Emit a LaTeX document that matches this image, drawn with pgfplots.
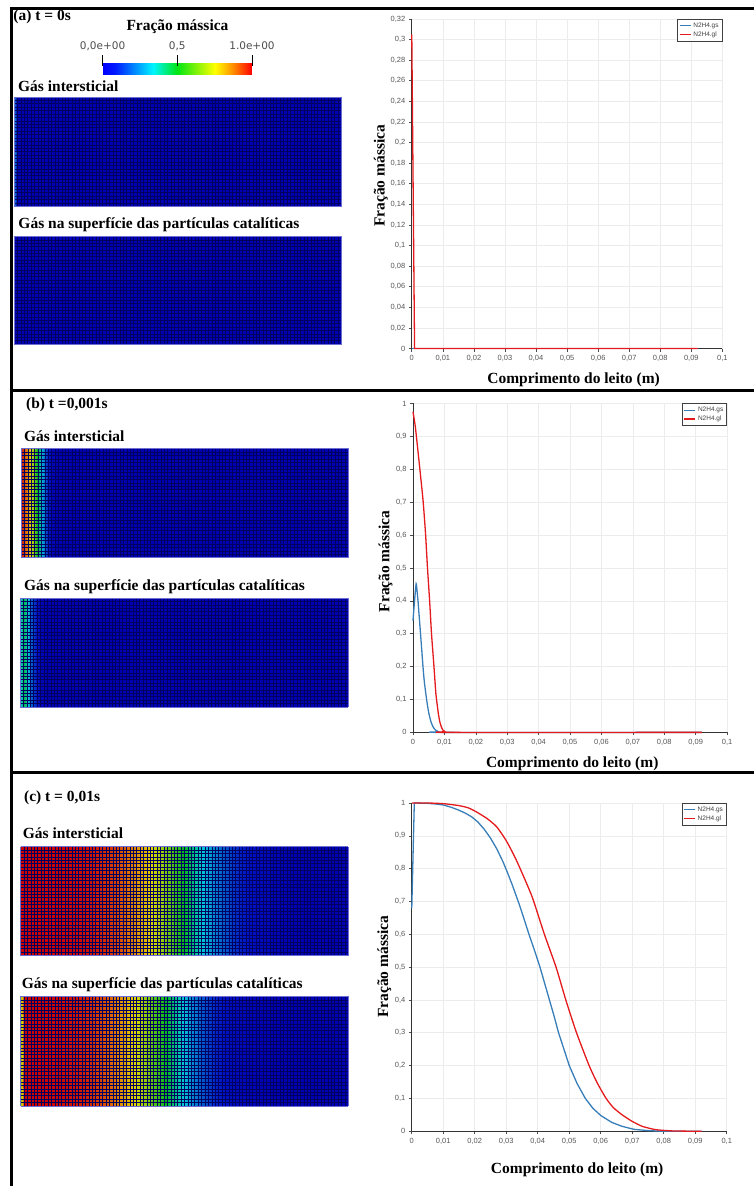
\documentclass[border=0pt]{standalone}
\usepackage{fontspec}
\setmainfont{Liberation Serif}
\setsansfont{Liberation Sans}
\newfontfamily\cbfont{DejaVu Sans}
\usepackage{pgfplots}
\usepackage{pgfplotstable}
\pgfplotsset{compat=1.18}

\definecolor{pvblue}{RGB}{55,126,184}
\definecolor{pvred}{RGB}{228,26,28}
\definecolor{ticktext}{RGB}{85,85,85}
\definecolor{gridc}{RGB}{236,236,236}
\definecolor{meshline}{RGB}{0,0,95}
\definecolor{meshedge}{RGB}{110,110,210}

\pgfplotsset{
  colormap={pvbar}{rgb255(0cm)=(0,0,255) rgb255(8cm)=(0,25,255) rgb255(34cm)=(0,245,255) rgb255(50cm)=(0,230,20) rgb255(75cm)=(255,255,0) rgb255(87cm)=(255,140,0) rgb255(100cm)=(255,0,0)},
  colormap={pvmesh}{rgb255(0cm)=(0,0,180) rgb255(8cm)=(0,20,200) rgb255(34cm)=(0,200,215) rgb255(50cm)=(0,185,30) rgb255(75cm)=(225,215,0) rgb255(87cm)=(225,120,0) rgb255(100cm)=(205,0,0)},
  lineplot/.style={
    scale only axis, clip=false,
    xmin=0, xmax=0.1, ymin=0,
    axis x line*=bottom, axis y line*=left,
    axis line style={draw=black!80, line width=0.8pt},
    tick align=outside, major tick length=3pt,
    major tick style={draw=black!70, line width=0.6pt},
    xtick={0,0.01,...,0.1},
    grid=major, major grid style={draw=gridc, line width=0.6pt},
    scaled x ticks=false, scaled y ticks=false,
    tick label style={font=\sffamily\fontsize{7.5}{8}\selectfont, text=ticktext},
    /pgf/number format/fixed, /pgf/number format/precision=2,
    /pgf/number format/use comma,
    /pgf/number format/assume math mode=true,
    label style={font=\bfseries\fontsize{15.5}{18}\selectfont},
    xlabel={Comprimento do leito (m)}, ylabel={Fração mássica},
    legend style={at={(1,1)}, anchor=north east, draw=black!75, line width=0.6pt,
      fill=white, inner sep=1.5pt, row sep=-1.5pt,
      font=\sffamily\fontsize{6.5}{7.5}\selectfont, text=black!75},
    legend cell align=left,
    legend image code/.code={\draw[##1, line width=1.3pt] (0pt,0pt) -- (11pt,0pt);},
  },
  curve/.style={line width=1.3pt, smooth, tension=0.35},
  meshplot/.style={
    scale only axis, width=328pt, height=109pt,
    view={0}{90}, xmin=0, xmax=96, ymin=0, ymax=32, zmin=-1, zmax=2,
    colormap name=pvmesh, point meta min=0, point meta max=1,
    xtick={0,...,96}, ytick={0,...,32}, ztick=\empty,
    xticklabels={}, yticklabels={}, major tick length=0pt,
    grid=major, major grid style={draw=meshline, line width=0.5pt},
    axis on top, axis line style={draw=meshedge, line width=0.6pt},
  },
}

% series: x (m), mass fraction
\pgfplotstableread{
x y
0 0
0.092 0
}\gsa
\pgfplotstableread{
x y
0 0.305
0.0009 0
0.092 0
}\gla
\pgfplotstableread{
x y
0 0.34
0.0005 0.40
0.001 0.452
0.0013 0.43
0.0016 0.40
0.002 0.35
0.0024 0.30
0.0028 0.25
0.0032 0.198
0.0036 0.155
0.0041 0.117
0.0046 0.083
0.0051 0.056
0.0058 0.03
0.0065 0.015
0.0073 0.006
0.0081 0.002
0.009 0
0.092 0
}\gsb
\pgfplotstableread{
x y
0 0.975
0.00075 0.929
0.0019 0.827
0.0032 0.706
0.004 0.604
0.0046 0.503
0.0053 0.40
0.0059 0.30
0.0067 0.198
0.0073 0.117
0.0081 0.056
0.0086 0.03
0.0091 0.015
0.0096 0.006
0.0102 0.002
0.011 0
0.092 0
}\glb
\pgfplotstableread{
x y
0 0.68
0.0008 1.0
0.005 0.999
0.0075 0.997
0.01 0.994
0.0125 0.987
0.015 0.978
0.017 0.969
0.019 0.958
0.021 0.942
0.023 0.92
0.025 0.893
0.027 0.86
0.029 0.82
0.0305 0.785
0.032 0.748
0.0342 0.689
0.0357 0.645
0.0372 0.6
0.039 0.55
0.0407 0.5
0.0422 0.45
0.0437 0.4
0.0452 0.35
0.0466 0.3
0.0483 0.25
0.05 0.2
0.0525 0.145
0.0551 0.1
0.0575 0.07
0.06 0.048
0.0635 0.027
0.0668 0.015
0.0705 0.006
0.075 0.002
0.08 0
0.092 0
}\gsc
\pgfplotstableread{
x y
0 1.0
0.005 1.0
0.01 0.998
0.015 0.992
0.018 0.985
0.0205 0.973
0.024 0.952
0.027 0.927
0.03 0.885
0.033 0.83
0.036 0.765
0.0384 0.709
0.0421 0.6
0.0458 0.5
0.0489 0.4
0.0523 0.3
0.0563 0.2
0.059 0.145
0.0617 0.1
0.064 0.072
0.0668 0.05
0.07 0.03
0.0732 0.015
0.0774 0.005
0.083 0.001
0.092 0
}\glc

% two copies of each profile -> the two rows (bottom, top) of a mesh
\newcommand\twice[3]{%
  \pgfplotstablegetrowsof{#1}\edef#3{\pgfplotsretval}%
  \pgfplotstablenew[columns={x,y},
    create on use/x/.style={create col/copy column from table={#1}{x}},
    create on use/y/.style={create col/copy column from table={#1}{y}}]{#3}#2%
  \pgfplotstablevertcat{#2}{#1}}
\twice{\gla}{\mgla}{\nla}
\twice{\gsa}{\mgsa}{\nsa}
\twice{\glb}{\mglb}{\nlb}
\twice{\gsb}{\mgsb}{\nsb}
\twice{\glc}{\mglc}{\nlc}
\twice{\gsc}{\mgsc}{\nsc}

\newcommand\bt{\bfseries\fontsize{15.5}{18}\selectfont}
\newcommand\cbt{\cbfont\fontsize{10.5}{12}\selectfont}

\begin{document}
\begin{tikzpicture}
\path (0pt,0pt) rectangle (755pt,-1187pt);

% ---------- colour bar ----------
\begin{axis}[at={(102.7pt,-75pt)}, anchor=south west, scale only axis,
  width=149.6pt, height=11.7pt, view={0}{90}, hide axis, clip=false,
  xmin=0, xmax=1, ymin=0, ymax=1, colormap name=pvbar,
  point meta min=0, point meta max=1]
\addplot3[surf, shader=interp, mesh/rows=2, point meta=x] coordinates {
  (0,0,0) (0.08,0,0) (0.34,0,0) (0.5,0,0) (0.75,0,0) (0.87,0,0) (1,0,0)
  (0,1,0) (0.08,1,0) (0.34,1,0) (0.5,1,0) (0.75,1,0) (0.87,1,0) (1,1,0)};
\draw[black, line width=0.9pt] (axis cs:0,0.8,0) -- (axis cs:0,1.71,0);
\draw[black, line width=0.9pt] (axis cs:0.5,0.8,0) -- (axis cs:0.5,1.71,0);
\draw[black, line width=0.9pt] (axis cs:1,0.8,0) -- (axis cs:1,1.71,0);
\node[anchor=base, font=\cbt, text=black!70] at (axis cs:0,2.2,0) {0,0e+00};
\node[anchor=base, font=\cbt, text=black!70] at (axis cs:0.5,2.2,0) {0,5};
\node[anchor=base, font=\cbt, text=black!70] at (axis cs:1,2.2,0) {1.0e+00};
\end{axis}
\node[anchor=base, font=\bt, inner sep=0pt] at (177.7pt,-31pt) {Fração mássica};

% ---------- panel texts ----------
\node[anchor=base west, font=\bt, inner sep=0pt] at (13.3pt,-21pt) {(a) t = 0s};
\node[anchor=base west, font=\bt, inner sep=0pt] at (18pt,-91.7pt) {Gás intersticial};
\node[anchor=base west, font=\bt, inner sep=0pt] at (18.3pt,-228.3pt) {Gás na superfície das partículas catalíticas};
\node[anchor=base west, font=\bt, inner sep=0pt] at (26pt,-409pt) {(b) t =0,001s};
\node[anchor=base west, font=\bt, inner sep=0pt] at (24pt,-442pt) {Gás intersticial};
\node[anchor=base west, font=\bt, inner sep=0pt] at (24pt,-591.7pt) {Gás na superfície das partículas catalíticas};
\node[anchor=base west, font=\bt, inner sep=0pt] at (24pt,-803pt) {(c) t = 0,01s};
\node[anchor=base west, font=\bt, inner sep=0pt] at (22.7pt,-840pt) {Gás intersticial};
\node[anchor=base west, font=\bt, inner sep=0pt] at (21.7pt,-989.3pt) {Gás na superfície das partículas catalíticas};

% ---------- meshes ----------
\begin{axis}[meshplot, at={(14pt,-206.7pt)}, anchor=south west, height=109.7pt]
\addplot3[surf, shader=interp, mesh/rows=2, point meta=explicit]
  table[x expr=\thisrow{x}*96/0.092, y expr={\coordindex<\nla ? 0 : 32}, z=y, meta=y] {\mgla};
\end{axis}
\begin{axis}[meshplot, at={(14pt,-344.3pt)}, anchor=south west, height=107.6pt]
\addplot3[surf, shader=interp, mesh/rows=2, point meta=explicit]
  table[x expr=\thisrow{x}*96/0.092, y expr={\coordindex<\nsa ? 0 : 32}, z=y, meta=y] {\mgsa};
\end{axis}
\begin{axis}[meshplot, at={(21pt,-558.3pt)}, anchor=south west]
\addplot3[surf, shader=interp, mesh/rows=2, point meta=explicit]
  table[x expr=\thisrow{x}*96/0.092, y expr={\coordindex<\nlb ? 0 : 32}, z=y, meta=y] {\mglb};
\end{axis}
\begin{axis}[meshplot, at={(20pt,-707.7pt)}, anchor=south west, width=328.7pt]
\addplot3[surf, shader=interp, mesh/rows=2, point meta=explicit]
  table[x expr=\thisrow{x}*96/0.092, y expr={\coordindex<\nsb ? 0 : 32}, z=y, meta=y] {\mgsb};
\end{axis}
\begin{axis}[meshplot, at={(20.7pt,-956.7pt)}, anchor=south west]
\addplot3[surf, shader=interp, mesh/rows=2, point meta=explicit]
  table[x expr=\thisrow{x}*96/0.092, y expr={\coordindex<\nlc ? 0 : 32}, z=y, meta=y] {\mglc};
\end{axis}
\begin{axis}[meshplot, at={(20.7pt,-1107.3pt)}, anchor=south west, height=109.6pt]
\addplot3[surf, shader=interp, mesh/rows=2, point meta=explicit]
  table[x expr=\thisrow{x}*96/0.092, y expr={\coordindex<\nsc ? 0 : 32}, z=y, meta=y] {\mgsc};
\end{axis}

% ---------- line plots ----------
\begin{axis}[lineplot, at={(412.3pt,-349pt)}, anchor=south west,
  width=311pt, height=330pt, ymax=0.32, ytick={0,0.02,...,0.32},
  xlabel style={at={(axis description cs:0.521,-0.106)}, anchor=base},
  ylabel style={at={(axis description cs:-0.1,0.524)}, anchor=center}]
\addplot[pvblue, line width=1.3pt] table[x=x, y=y] {\gsa};
\addplot[pvred, line width=1.3pt] table[x=x, y=y] {\gla};
\legend{N2H4.gs, N2H4.gl}
\end{axis}

\begin{axis}[lineplot, at={(413.5pt,-733.3pt)}, anchor=south west,
  width=314.5pt, height=329.3pt, ymax=1, ytick={0,0.1,...,1},
  xlabel style={at={(axis description cs:0.507,-0.1055)}, anchor=base},
  ylabel style={at={(axis description cs:-0.087,0.52)}, anchor=center}]
\addplot[pvblue, curve] table[x=x, y=y] {\gsb};
\addplot[pvred, curve] table[x=x, y=y] {\glb};
\legend{N2H4.gs, N2H4.gl}
\end{axis}

\begin{axis}[lineplot, at={(412.3pt,-1132.7pt)}, anchor=south west,
  width=315.4pt, height=328.7pt, ymax=1, ytick={0,0.1,...,1},
  xlabel style={at={(axis description cs:0.525,-0.129)}, anchor=base},
  ylabel style={at={(axis description cs:-0.087,0.501)}, anchor=center}]
\addplot[pvblue, line width=1.3pt, line join=round] table[x=x, y=y] {\gsc};
\addplot[pvred, curve] table[x=x, y=y] {\glc};
\legend{N2H4.gs, N2H4.gl}
\end{axis}

% ---------- frame ----------
\draw[line width=3.2pt] (10pt,-8.5pt) -- (755pt,-8.5pt);
\draw[line width=3pt] (11.5pt,-7pt) -- (11.5pt,-1187pt);
\draw[line width=3pt] (10pt,-390.8pt) -- (755pt,-390.8pt);
\draw[line width=3pt] (10pt,-773pt) -- (755pt,-773pt);
\end{tikzpicture}
\end{document}
